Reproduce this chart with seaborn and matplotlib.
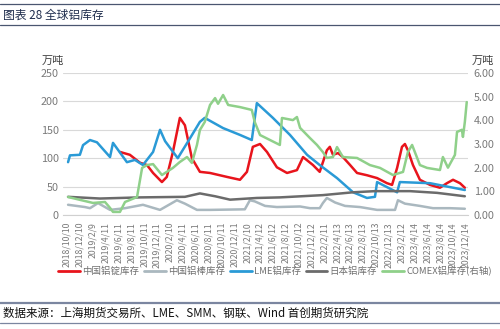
import matplotlib
matplotlib.use("Agg")
import matplotlib.pyplot as plt
from matplotlib.lines import Line2D
import numpy as np
import pandas as pd
import seaborn as sns

# ---- data (万吨) ----
lme_dates = ["2018-10-15", "2018-10-24", "2018-12-10", "2018-12-25", "2019-01-27", "2019-03-01",
             "2019-05-02", "2019-05-16", "2019-07-21", "2019-08-28", "2019-10-05", "2019-11-22",
             "2019-12-25", "2020-01-18", "2020-03-18", "2020-05-15", "2020-07-01", "2020-07-24",
             "2020-10-19", "2021-01-07", "2021-03-04", "2021-03-28", "2021-06-12", "2021-09-01",
             "2021-11-21", "2022-01-20", "2022-04-12", "2022-06-27", "2022-09-01", "2022-10-09",
             "2022-10-19", "2023-01-22", "2023-02-04", "2023-06-27", "2023-12-09"]
lme_values = [93, 105, 106, 123, 132, 128,
              102, 127, 93, 97, 88, 111,
              150, 130, 100, 135, 164, 171,
              153, 141, 132, 197, 171, 141,
              106, 88, 65, 40, 30, 32,
              58, 40, 58, 56, 44]

ingot_dates = ["2019-06-18", "2019-08-04", "2019-09-21", "2019-10-24", "2019-11-22", "2020-01-03",
               "2020-01-26", "2020-02-24", "2020-03-28", "2020-04-21", "2020-05-24", "2020-07-01",
               "2020-08-18", "2020-11-07", "2021-01-07", "2021-02-09", "2021-03-09", "2021-04-12",
               "2021-05-15", "2021-07-01", "2021-08-18", "2021-10-04", "2021-11-02", "2021-12-19",
               "2022-01-20", "2022-02-23", "2022-03-09", "2022-03-24", "2022-04-17", "2022-05-10",
               "2022-06-13", "2022-07-16", "2022-09-01", "2022-10-19", "2022-12-05", "2022-12-29",
               "2023-01-22", "2023-02-14", "2023-02-28", "2023-03-14", "2023-04-07", "2023-05-10",
               "2023-06-27", "2023-08-13", "2023-09-15", "2023-10-14", "2023-11-16", "2023-12-09"]
ingot_values = [111, 106, 92, 88, 74, 58,
                67, 111, 171, 158, 100, 76,
                74, 67, 62, 76, 120, 125,
                111, 84, 74, 79, 102, 88,
                76, 114, 120, 106, 109, 102,
                88, 74, 70, 65, 56, 53,
                83, 120, 125, 114, 88, 62,
                53, 48, 56, 62, 56, 48]

rod_dates = ["2018-10-15", "2019-01-03", "2019-01-27", "2019-03-06", "2019-05-02", "2019-07-12",
             "2019-10-05", "2019-12-25", "2020-03-14", "2020-04-21", "2020-06-17", "2020-08-18",
             "2021-01-30", "2021-02-23", "2021-03-18", "2021-05-06", "2021-07-01", "2021-10-19",
             "2021-12-05", "2022-01-20", "2022-02-04", "2022-02-23", "2022-04-03", "2022-05-20",
             "2022-07-30", "2022-10-19", "2023-01-12", "2023-01-26", "2023-02-28", "2023-05-10",
             "2023-07-11", "2023-09-30", "2023-12-09"]
rod_values = [18, 14, 12, 21, 9, 12,
              18, 9, 26, 20, 9, 9,
              10, 26, 24, 16, 14, 15,
              12, 12, 21, 30, 22, 16,
              14, 9, 9, 26, 20, 16,
              12, 12, 11]

japan_dates = ["2018-10-15", "2019-03-15", "2019-09-21", "2020-04-21", "2020-07-01", "2020-09-11",
               "2020-11-21", "2021-03-28", "2021-07-15", "2022-02-04", "2022-06-27", "2022-10-09",
               "2023-03-24", "2023-07-30", "2023-12-09"]
japan_values = [32, 29, 31, 32, 38, 33,
                27, 30, 31, 35, 40, 42,
                42, 39, 33]

comex_dates = ["2018-10-15", "2019-02-10", "2019-04-08", "2019-05-02", "2019-05-16", "2019-06-18",
               "2019-07-12", "2019-09-07", "2019-10-01", "2019-10-24", "2019-11-22", "2020-01-03",
               "2020-02-24", "2020-03-28", "2020-05-01", "2020-05-24", "2020-06-17", "2020-07-01",
               "2020-07-24", "2020-08-18", "2020-09-11", "2020-09-25", "2020-10-19", "2020-11-12",
               "2021-01-07", "2021-03-04", "2021-03-18", "2021-04-12", "2021-07-15", "2021-07-25",
               "2021-09-15", "2021-10-04", "2021-10-19", "2021-12-05", "2022-01-07", "2022-02-04",
               "2022-02-23", "2022-03-24", "2022-04-12", "2022-05-10", "2022-07-16", "2022-09-15",
               "2022-11-02", "2023-01-02", "2023-02-19", "2023-03-14", "2023-04-03", "2023-05-10",
               "2023-06-13", "2023-08-13", "2023-08-27", "2023-09-20", "2023-10-23", "2023-11-02",
               "2023-11-25", "2023-11-30", "2023-12-09", "2023-12-18"]
comex_values = [0.76, 0.51, 0.55, 0.30, 0.13, 0.13,
                0.55, 0.76, 1.99, 2.11, 2.15, 1.69,
                1.99, 2.24, 2.45, 2.20, 2.96, 3.59,
                3.93, 4.65, 4.94, 4.70, 5.07, 4.65,
                4.56, 4.44, 3.93, 3.38, 2.96, 4.10,
                4.01, 4.14, 3.68, 3.25, 2.96, 2.66,
                2.41, 2.45, 2.87, 2.45, 2.41, 2.11,
                1.99, 1.69, 1.82, 2.66, 2.96, 2.11,
                1.99, 1.90, 2.45, 2.00, 2.54, 3.51,
                3.60, 3.30, 3.93, 4.77]

tick_labels = ["2018/10/10", "2018/12/10", "2019/2/9", "2019/4/11", "2019/6/11", "2019/8/11",
               "2019/10/11", "2019/12/11", "2020/2/10", "2020/4/11", "2020/6/11", "2020/8/11",
               "2020/10/11", "2020/12/11", "2021/2/10", "2021/4/12", "2021/6/12", "2021/8/12",
               "2021/10/12", "2021/12/12", "2022/2/11", "2022/4/13", "2022/6/13", "2022/8/13",
               "2022/10/13", "2022/12/13", "2023/2/12", "2023/4/14", "2023/6/14", "2023/8/14",
               "2023/10/14", "2023/12/14"]

series_names = ["中国铝锭库存", "中国铝棒库存", "LME铝库存", "日本铝库存", "COMEX铝库存(右轴)"]
series_colors = ["#e8141c", "#aab8bf", "#2a9ad6", "#6b6b6b", "#8fd08a"]


def frame(dates, values):
    return pd.DataFrame({"date": pd.to_datetime(dates), "value": values})


sns.set_style("white")
plt.rcParams["font.family"] = ["Noto Sans CJK SC", "DejaVu Sans"]
plt.rcParams["axes.unicode_minus"] = False

fig = plt.figure(figsize=(5.0, 3.29), dpi=100)
ax = fig.add_axes([0.126, 0.3465, 0.81, 0.4316])
ax2 = ax.twinx()

lw = 1.8
left_series = [(ingot_dates, ingot_values), (rod_dates, rod_values),
               (lme_dates, lme_values), (japan_dates, japan_values)]
# draw rod, Japan and LME first, then ingot on top
for idx in [1, 3, 2, 0]:
    d, v = left_series[idx]
    sns.lineplot(data=frame(d, v), x="date", y="value", ax=ax,
                 color=series_colors[idx], linewidth=lw, zorder=3 + idx)
sns.lineplot(data=frame(comex_dates, comex_values), x="date", y="value", ax=ax2,
             color=series_colors[4], linewidth=lw)

tick_dates = pd.to_datetime(tick_labels, format="%Y/%m/%d")
for a in (ax, ax2):
    a.set_xlim(pd.Timestamp("2018-09-21"), pd.Timestamp("2023-12-24"))
    a.set_xlabel("")
    a.set_ylabel("")
    for s in a.spines.values():
        s.set_visible(False)

ax.set_ylim(0, 250)
ax.set_yticks(np.arange(0, 251, 50))
ax2.set_ylim(0, 6)
ax2.set_yticks(np.arange(0, 6.01, 1))
ax2.set_yticklabels([f"{t:.2f}" for t in np.arange(0, 6.01, 1)])

ax.set_xticks(tick_dates)
ax.set_xticklabels(tick_labels, rotation=90, fontsize=6.3, color="#7a7a7a")
ax.tick_params(axis="x", length=3, width=0.6, color="#bfbfbf", pad=2)
ax.tick_params(axis="y", length=0, labelsize=7.8, labelcolor="#7a7a7a", pad=3)
ax2.tick_params(axis="y", length=0, labelsize=7.8, labelcolor="#7a7a7a", pad=4)
ax2.tick_params(axis="x", length=0)

ax.grid(axis="y", color="#d9d9d9", linewidth=0.8)
ax.grid(axis="x", visible=False)
ax2.grid(False)
ax.spines["bottom"].set_visible(True)
ax.spines["bottom"].set_color("#d0d0d0")
ax.spines["bottom"].set_linewidth(0.8)

fig.text(0.084, 1 - 61 / 329, "万吨", fontsize=8, color="#404040", ha="left", va="center")
fig.text(0.944, 1 - 61 / 329, "万吨", fontsize=8, color="#404040", ha="left", va="center")

handles = [Line2D([], [], color=c, linewidth=2.0) for c in series_colors]
fig.legend(handles, series_names, loc="center", bbox_to_anchor=(0.55, 0.176), ncol=5,
           frameon=False, fontsize=6.8, handlelength=2.3, handletextpad=0.25,
           columnspacing=0.5, labelcolor="#707070")

# header and footer bars
navy = "#1f2d4d"
rule = "#4a5670"
fig.add_artist(Line2D([0, 1], [1 - 4 / 329, 1 - 4 / 329], color=rule, linewidth=0.9))
fig.add_artist(Line2D([0, 1], [1 - 25 / 329, 1 - 25 / 329], color=rule, linewidth=0.9))
fig.text(0.006, 1 - 15 / 329, "图表 28 全球铝库存", fontsize=8.5, color=navy, ha="left", va="center")
fig.add_artist(Line2D([0, 1], [1 - 303 / 329, 1 - 303 / 329], color="#7b86a0", linewidth=1.6))
fig.add_artist(Line2D([0, 1], [1 - 323 / 329, 1 - 323 / 329], color="#7b86a0", linewidth=0.9))
fig.text(0.006, 1 - 313 / 329, "数据来源：上海期货交易所、LME、SMM、钢联、Wind 首创期货研究院",
         fontsize=8.3, color="#111111", ha="left", va="center")

fig.savefig("out.png", dpi=100)
